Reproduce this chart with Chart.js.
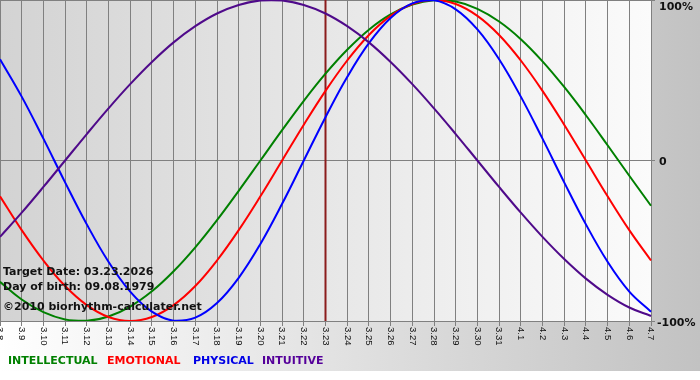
<!DOCTYPE html>
<html>
<head>
<meta charset="utf-8">
<script src="https://cdn.jsdelivr.net/npm/chart.js@4"></script>
<style>
html,body{margin:0;padding:0;background:#fff;}
#wrap{width:700px;height:380px;}
</style>
</head>
<body>
<div id="wrap"><canvas id="bioChart" width="700" height="380"></canvas></div>
<script>
// days shown on the x axis (month.day)
const labels=["3.8","3.9","3.10","3.11","3.12","3.13","3.14","3.15","3.16","3.17","3.18","3.19","3.20","3.21","3.22","3.23",
    "3.24","3.25","3.26","3.27","3.28","3.29","3.30","3.31","4.1","4.2","4.3","4.4","4.5","4.6","4.7"];

const intellectual=[-0.756,-0.866,-0.945,-0.990,-0.999,-0.972,-0.910,-0.815,-0.690,-0.541,-0.372,-0.189,0,0.189,0.372,0.541,
    0.690,0.815,0.910,0.972,0.999,0.990,0.945,0.866,0.756,0.618,0.458,0.282,0.095,-0.095,-0.282];
const emotional=[-0.223,-0.434,-0.623,-0.782,-0.901,-0.975,-1,-0.975,-0.901,-0.782,-0.623,-0.434,-0.223,0,0.223,0.434,
    0.623,0.782,0.901,0.975,1,0.975,0.901,0.782,0.623,0.434,0.223,0,-0.223,-0.434,-0.623];
const physical=[0.631,0.398,0.136,-0.136,-0.398,-0.631,-0.817,-0.942,-0.998,-0.979,-0.888,-0.731,-0.520,-0.270,0,0.270,
    0.520,0.731,0.888,0.979,0.998,0.942,0.817,0.631,0.398,0.136,-0.136,-0.398,-0.631,-0.817,-0.942];
const intuitive=[-0.476,-0.325,-0.165,0,0.165,0.325,0.476,0.614,0.736,0.837,0.916,0.969,0.997,0.997,0.969,0.916,
    0.837,0.736,0.614,0.476,0.325,0.165,0,-0.165,-0.325,-0.476,-0.614,-0.736,-0.837,-0.916,-0.969];

const yLabels=[{v:1,t:"100%"},{v:0,t:"0"},{v:-1,t:"-100%"}];
const targetDay="3.23";
const infoLines=["Target Date: 03.23.2026","Day of birth: 09.08.1979","\u00a92010 biorhythm-calculater.net"];
const legendItems=[
    {t:"INTELLECTUAL",c:"#008000",x:8},
    {t:"EMOTIONAL",c:"#ff0000",x:107},
    {t:"PHYSICAL",c:"#0000e6",x:193},
    {t:"INTUITIVE",c:"#55009a",x:262}
];

const decor={
    id:'decor',
    beforeDraw(chart){
        const {ctx,chartArea:a,width,height}=chart;
        ctx.save();
        let g=ctx.createLinearGradient(0,0,width,0);
        g.addColorStop(0,'#ffffff');
        g.addColorStop(1,'#c2c2c2');
        ctx.fillStyle=g;
        ctx.fillRect(0,0,width,371);
        ctx.fillStyle='#ffffff';
        ctx.fillRect(0,371,width,height-371);
        g=ctx.createLinearGradient(a.left,0,a.right,0);
        g.addColorStop(0,'#d3d3d3');
        g.addColorStop(1,'#fbfbfb');
        ctx.fillStyle=g;
        ctx.fillRect(a.left,a.top,a.right-a.left,a.bottom-a.top);
        ctx.restore();
    },
    beforeDatasetsDraw(chart){
        const {ctx,chartArea:a,scales}=chart;
        const x=scales.x.getPixelForValue(labels.indexOf(targetDay));
        ctx.save();
        ctx.strokeStyle='#8b1c1c';
        ctx.lineWidth=2;
        ctx.beginPath();
        ctx.moveTo(x,a.top);
        ctx.lineTo(x,a.bottom);
        ctx.stroke();
        ctx.restore();
    },
    afterDraw(chart){
        const {ctx,chartArea:a,scales}=chart;
        ctx.save();
        // rotated day labels
        ctx.fillStyle='#111';
        ctx.font='9.5px "Liberation Sans"';
        ctx.textAlign='left';
        ctx.textBaseline='middle';
        labels.forEach((l,i)=>{
            const x=scales.x.getPixelForTick(i);
            ctx.save();
            ctx.translate(x,a.bottom+6);
            ctx.rotate(Math.PI/2);
            ctx.fillText(l,0,0);
            ctx.restore();
        });
        // percentage labels
        ctx.font='bold 11px "DejaVu Sans"';
        ctx.fillStyle='#111';
        yLabels.forEach(y=>{
            const py=Math.max(scales.y.getPixelForValue(y.v)+2,7);
            ctx.fillText(y.t,y.v<0?657:659,py);
        });
        // info text
        infoLines.forEach((t,i)=>{
            ctx.fillText(t,3,[272,287,307][i]);
        });
        // legend
        legendItems.forEach(it=>{
            ctx.fillStyle=it.c;
            ctx.fillText(it.t,it.x,361);
        });
        ctx.restore();
    }
};

function line(label,data,color){
    return {label:label,data:data,borderColor:color,borderWidth:2,pointRadius:0,tension:0.4,fill:false};
}

new Chart(document.getElementById('bioChart').getContext('2d'),{
    type:'line',
    data:{
        labels:labels,
        datasets:[
            line('INTUITIVE',intuitive,'#4f0a8a'),
            line('PHYSICAL',physical,'#0000ff'),
            line('EMOTIONAL',emotional,'#ff0000'),
            line('INTELLECTUAL',intellectual,'#008000')
        ]
    },
    options:{
        responsive:false,
        animation:false,
        devicePixelRatio:1,
        layout:{padding:{left:0,top:0,right:45,bottom:54}},
        plugins:{legend:{display:false},tooltip:{enabled:false}},
        scales:{
            x:{
                offset:false,
                grid:{color:'#808080',tickLength:5},
                border:{color:'#808080'},
                ticks:{display:false}
            },
            y:{
                position:'right',
                min:-1,max:1,
                grid:{color:'#808080',tickLength:4},
                border:{color:'#808080'},
                ticks:{display:false,stepSize:1}
            }
        }
    },
    plugins:[decor]
});
</script>
</body>
</html>
